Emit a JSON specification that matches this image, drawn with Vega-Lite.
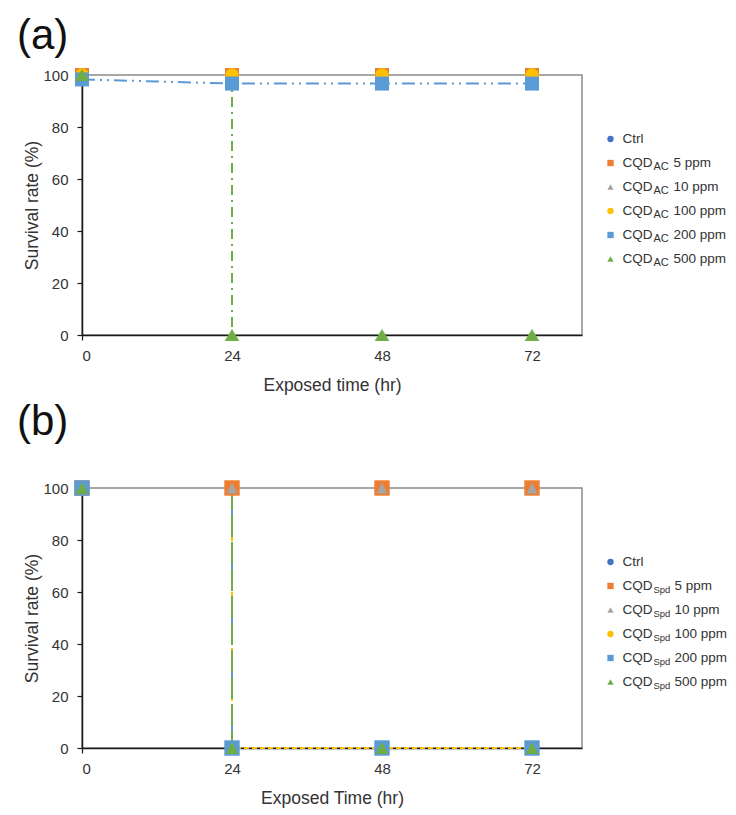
{
  "$schema": "https://vega.github.io/schema/vega-lite/v6.json",
  "padding": {"left": 16, "top": 14, "right": 0, "bottom": 0},
  "background": "white",
  "config": {
    "font": "Liberation Sans",
    "view": {"stroke": "#8a8a8a", "strokeWidth": 1.5},
    "axis": {
      "domainColor": "#1a1a1a", "domainWidth": 1.5,
      "tickColor": "#1a1a1a", "tickWidth": 1.2, "tickSize": 5,
      "labelFont": "Liberation Sans", "labelFontSize": 15, "labelColor": "#333333",
      "titleFont": "Liberation Sans", "titleFontSize": 17.5, "titleFontWeight": "normal", "titleColor": "#333333",
      "grid": false
    },
    "axisY": {"labelPadding": 9, "titlePadding": 1},
    "axisX": {"labelPadding": 8, "titlePadding": 13},
    "title": {"anchor": "start", "fontSize": 42, "fontWeight": "normal", "font": "Liberation Sans", "color": "#111111", "baseline": "bottom", "dx": -7}
  },
  "datasets": {
    "points": [
      {"panel": "a", "series": "Ctrl", "t": 0, "survival": 100},
      {"panel": "a", "series": "Ctrl", "t": 24, "survival": 100},
      {"panel": "a", "series": "Ctrl", "t": 48, "survival": 100},
      {"panel": "a", "series": "Ctrl", "t": 72, "survival": 100},
      {"panel": "a", "series": "5 ppm", "t": 0, "survival": 100},
      {"panel": "a", "series": "5 ppm", "t": 24, "survival": 100},
      {"panel": "a", "series": "5 ppm", "t": 48, "survival": 100},
      {"panel": "a", "series": "5 ppm", "t": 72, "survival": 100},
      {"panel": "a", "series": "10 ppm", "t": 0, "survival": 100},
      {"panel": "a", "series": "10 ppm", "t": 24, "survival": 100},
      {"panel": "a", "series": "10 ppm", "t": 48, "survival": 100},
      {"panel": "a", "series": "10 ppm", "t": 72, "survival": 100},
      {"panel": "a", "series": "100 ppm", "t": 0, "survival": 100},
      {"panel": "a", "series": "100 ppm", "t": 24, "survival": 100},
      {"panel": "a", "series": "100 ppm", "t": 48, "survival": 100},
      {"panel": "a", "series": "100 ppm", "t": 72, "survival": 100},
      {"panel": "a", "series": "200 ppm", "t": 0, "survival": 98.3},
      {"panel": "a", "series": "200 ppm", "t": 24, "survival": 96.7},
      {"panel": "a", "series": "200 ppm", "t": 48, "survival": 96.7},
      {"panel": "a", "series": "200 ppm", "t": 72, "survival": 96.7},
      {"panel": "a", "series": "500 ppm", "t": 0, "survival": 100},
      {"panel": "a", "series": "500 ppm", "t": 24, "survival": 0},
      {"panel": "a", "series": "500 ppm", "t": 48, "survival": 0},
      {"panel": "a", "series": "500 ppm", "t": 72, "survival": 0},
      {"panel": "b", "series": "Ctrl", "t": 0, "survival": 100},
      {"panel": "b", "series": "Ctrl", "t": 24, "survival": 100},
      {"panel": "b", "series": "Ctrl", "t": 48, "survival": 100},
      {"panel": "b", "series": "Ctrl", "t": 72, "survival": 100},
      {"panel": "b", "series": "5 ppm", "t": 0, "survival": 100},
      {"panel": "b", "series": "5 ppm", "t": 24, "survival": 100},
      {"panel": "b", "series": "5 ppm", "t": 48, "survival": 100},
      {"panel": "b", "series": "5 ppm", "t": 72, "survival": 100},
      {"panel": "b", "series": "10 ppm", "t": 0, "survival": 100},
      {"panel": "b", "series": "10 ppm", "t": 24, "survival": 100},
      {"panel": "b", "series": "10 ppm", "t": 48, "survival": 100},
      {"panel": "b", "series": "10 ppm", "t": 72, "survival": 100},
      {"panel": "b", "series": "100 ppm", "t": 0, "survival": 100},
      {"panel": "b", "series": "100 ppm", "t": 24, "survival": 0},
      {"panel": "b", "series": "100 ppm", "t": 48, "survival": 0},
      {"panel": "b", "series": "100 ppm", "t": 72, "survival": 0},
      {"panel": "b", "series": "200 ppm", "t": 0, "survival": 100},
      {"panel": "b", "series": "200 ppm", "t": 24, "survival": 0},
      {"panel": "b", "series": "200 ppm", "t": 48, "survival": 0},
      {"panel": "b", "series": "200 ppm", "t": 72, "survival": 0},
      {"panel": "b", "series": "500 ppm", "t": 0, "survival": 100},
      {"panel": "b", "series": "500 ppm", "t": 24, "survival": 0},
      {"panel": "b", "series": "500 ppm", "t": 48, "survival": 0},
      {"panel": "b", "series": "500 ppm", "t": 72, "survival": 0}
    ],
    "lines": [
      {"panel": "a", "series": "500 ppm", "t": 24, "survival": 100},
      {"panel": "a", "series": "500 ppm", "t": 24, "survival": 0},
      {"panel": "a", "series": "200 ppm", "t": 0, "survival": 98.3},
      {"panel": "a", "series": "200 ppm", "t": 24, "survival": 96.7},
      {"panel": "a", "series": "200 ppm", "t": 48, "survival": 96.7},
      {"panel": "a", "series": "200 ppm", "t": 72, "survival": 96.7},
      {"panel": "b", "series": "100 ppm", "t": 24, "survival": 100},
      {"panel": "b", "series": "100 ppm", "t": 24, "survival": 0},
      {"panel": "b", "series": "100 ppm", "t": 48, "survival": 0},
      {"panel": "b", "series": "100 ppm", "t": 72, "survival": 0},
      {"panel": "b", "series": "200 ppm", "t": 24, "survival": 100},
      {"panel": "b", "series": "200 ppm", "t": 24, "survival": 0},
      {"panel": "b", "series": "500 ppm", "t": 24, "survival": 100},
      {"panel": "b", "series": "500 ppm", "t": 24, "survival": 0}
    ],
    "legend": [
      {"panel": "a", "rank": 1, "series": "Ctrl", "base": "Ctrl", "sub": "", "rest": ""},
      {"panel": "a", "rank": 2, "series": "5 ppm", "base": "CQD", "sub": "AC", "rest": "5 ppm"},
      {"panel": "a", "rank": 3, "series": "10 ppm", "base": "CQD", "sub": "AC", "rest": "10 ppm"},
      {"panel": "a", "rank": 4, "series": "100 ppm", "base": "CQD", "sub": "AC", "rest": "100 ppm"},
      {"panel": "a", "rank": 5, "series": "200 ppm", "base": "CQD", "sub": "AC", "rest": "200 ppm"},
      {"panel": "a", "rank": 6, "series": "500 ppm", "base": "CQD", "sub": "AC", "rest": "500 ppm"},
      {"panel": "b", "rank": 1, "series": "Ctrl", "base": "Ctrl", "sub": "", "rest": ""},
      {"panel": "b", "rank": 2, "series": "5 ppm", "base": "CQD", "sub": "Spd", "rest": "5 ppm"},
      {"panel": "b", "rank": 3, "series": "10 ppm", "base": "CQD", "sub": "Spd", "rest": "10 ppm"},
      {"panel": "b", "rank": 4, "series": "100 ppm", "base": "CQD", "sub": "Spd", "rest": "100 ppm"},
      {"panel": "b", "rank": 5, "series": "200 ppm", "base": "CQD", "sub": "Spd", "rest": "200 ppm"},
      {"panel": "b", "rank": 6, "series": "500 ppm", "base": "CQD", "sub": "Spd", "rest": "500 ppm"}
    ]
  },
  "resolve": {"scale": {"shape": "independent", "color": "independent", "y": "independent", "x": "independent"}},
  "spacing": 5,
  "vconcat": [
    {
      "bounds": "flush",
      "spacing": 28.5,
      "resolve": {"scale": {"shape": "independent", "color": "independent", "y": "independent", "x": "independent"}},
      "hconcat": [
        {
          "title": {"text": "(a)", "offset": 10},
          "width": 500, "height": 260,
          "layer": [
            {
              "data": {"name": "lines"},
              "transform": [{"filter": "datum.panel === 'a' && datum.series === '500 ppm'"}],
              "mark": {"type": "line", "color": "#70AD47", "strokeWidth": 2, "strokeDash": [10, 5, 2, 5]},
              "encoding": {
                "x": {"field": "t", "type": "quantitative", "scale": {"domain": [0, 80], "nice": false}, "axis": {"values": [0, 24, 48, 72], "title": "Exposed time (hr)"}},
                "y": {"field": "survival", "type": "quantitative", "scale": {"domain": [0, 100]}, "axis": {"values": [0, 20, 40, 60, 80, 100], "title": "Survival rate (%)"}},
                "order": [{"field": "t", "type": "quantitative"}, {"field": "survival", "type": "quantitative", "sort": "descending"}]
              }
            },
            {
              "data": {"name": "lines"},
              "transform": [{"filter": "datum.panel === 'a' && datum.series === '200 ppm'"}],
              "mark": {"type": "line", "color": "#5B9BD5", "strokeWidth": 2, "strokeDash": [13, 5, 2, 5, 2, 5]},
              "encoding": {
                "x": {"field": "t", "type": "quantitative"},
                "y": {"field": "survival", "type": "quantitative"},
                "order": [{"field": "t", "type": "quantitative"}, {"field": "survival", "type": "quantitative", "sort": "descending"}]
              }
            },
            {
              "data": {"name": "points"},
              "transform": [{"filter": "datum.panel === 'a'"}],
              "mark": {"type": "point", "filled": true, "opacity": 1, "size": 196, "strokeWidth": 0},
              "encoding": {
                "x": {"field": "t", "type": "quantitative"},
                "y": {"field": "survival", "type": "quantitative"},
                "color": {"field": "series", "type": "nominal", "legend": null,
                  "scale": {"domain": ["Ctrl", "5 ppm", "10 ppm", "100 ppm", "200 ppm", "500 ppm"], "range": ["#4472C4", "#ED7D31", "#A5A5A5", "#FFC000", "#5B9BD5", "#70AD47"]}},
                "shape": {"field": "series", "type": "nominal", "legend": null,
                  "scale": {"domain": ["Ctrl", "5 ppm", "10 ppm", "100 ppm", "200 ppm", "500 ppm"],
                    "range": ["M0.95,0A0.95,0.95,0,1,1,-0.95,0A0.95,0.95,0,1,1,0.95,0Z", "M-1,-1H1V1H-1Z", "M0,-0.8L0.75,0.8L-0.75,0.8Z", "M0.95,0A0.95,0.95,0,1,1,-0.95,0A0.95,0.95,0,1,1,0.95,0Z", "M-1,-1H1V1H-1Z", "M0,-0.85L1.05,0.85L-1.05,0.85Z"]}}
              }
            }
          ]
        },
        {
          "width": 120, "height": 260,
          "view": {"stroke": null},
          "data": {"name": "legend"},
          "transform": [{"filter": "datum.panel === 'a'"}],
          "encoding": {
            "x": {"datum": 0, "type": "quantitative", "scale": {"domain": [0, 1]}, "axis": null},
            "y": {"field": "rank", "type": "quantitative", "axis": null, "scale": {"domain": [-1.667, 9.167], "reverse": true, "nice": false, "zero": false}}
          },
          "layer": [
            {
              "mark": {"type": "point", "filled": true, "opacity": 1, "size": 40, "strokeWidth": 0},
              "encoding": {
                "color": {"field": "series", "type": "nominal", "legend": null,
                  "scale": {"domain": ["Ctrl", "5 ppm", "10 ppm", "100 ppm", "200 ppm", "500 ppm"], "range": ["#4472C4", "#ED7D31", "#A5A5A5", "#FFC000", "#5B9BD5", "#70AD47"]}},
                "shape": {"field": "series", "type": "nominal", "legend": null,
                  "scale": {"domain": ["Ctrl", "5 ppm", "10 ppm", "100 ppm", "200 ppm", "500 ppm"], "range": ["circle", "square", "triangle-up", "circle", "square", "triangle-up"]}}
              }
            },
            {
              "mark": {"type": "text", "align": "left", "baseline": "middle", "dx": 12, "fontSize": 13.5, "color": "#333333"},
              "encoding": {"text": {"field": "base"}}
            },
            {
              "mark": {"type": "text", "align": "left", "baseline": "middle", "dx": 43, "dy": 4, "fontSize": 11, "color": "#333333"},
              "encoding": {"text": {"field": "sub"}}
            },
            {
              "mark": {"type": "text", "align": "left", "baseline": "middle", "dx": 63, "fontSize": 13.5, "color": "#333333"},
              "encoding": {"text": {"field": "rest"}}
            }
          ]
        }
      ]
    },
    {
      "bounds": "flush",
      "spacing": 28.5,
      "resolve": {"scale": {"shape": "independent", "color": "independent", "y": "independent", "x": "independent"}},
      "hconcat": [
        {
          "title": {"text": "(b)", "offset": 36},
          "width": 500, "height": 260,
          "layer": [
            {
              "data": {"name": "lines"},
              "transform": [{"filter": "datum.panel === 'b' && datum.series === '100 ppm'"}],
              "mark": {"type": "line", "color": "#FFC000", "strokeWidth": 2, "strokeDash": [5, 3]},
              "encoding": {
                "x": {"field": "t", "type": "quantitative", "scale": {"domain": [0, 80], "nice": false}, "axis": {"values": [0, 24, 48, 72], "title": "Exposed Time (hr)"}},
                "y": {"field": "survival", "type": "quantitative", "scale": {"domain": [0, 100]}, "axis": {"values": [0, 20, 40, 60, 80, 100], "title": "Survival rate (%)"}},
                "order": [{"field": "t", "type": "quantitative"}, {"field": "survival", "type": "quantitative", "sort": "descending"}]
              }
            },
            {
              "data": {"name": "lines"},
              "transform": [{"filter": "datum.panel === 'b' && datum.series === '200 ppm'"}],
              "mark": {"type": "line", "color": "#5B9BD5", "strokeWidth": 2, "strokeDash": [12, 6]},
              "encoding": {
                "x": {"field": "t", "type": "quantitative"},
                "y": {"field": "survival", "type": "quantitative"},
                "order": [{"field": "t", "type": "quantitative"}, {"field": "survival", "type": "quantitative", "sort": "descending"}]
              }
            },
            {
              "data": {"name": "lines"},
              "transform": [{"filter": "datum.panel === 'b' && datum.series === '500 ppm'"}],
              "mark": {"type": "line", "color": "#70AD47", "strokeWidth": 2, "strokeDash": [22, 5]},
              "encoding": {
                "x": {"field": "t", "type": "quantitative"},
                "y": {"field": "survival", "type": "quantitative"},
                "order": [{"field": "t", "type": "quantitative"}, {"field": "survival", "type": "quantitative", "sort": "descending"}]
              }
            },
            {
              "data": {"name": "points"},
              "transform": [{"filter": "datum.panel === 'b'"}],
              "mark": {"type": "point", "filled": true, "opacity": 1, "size": 196, "strokeWidth": 0},
              "encoding": {
                "x": {"field": "t", "type": "quantitative"},
                "y": {"field": "survival", "type": "quantitative"},
                "color": {"field": "series", "type": "nominal", "legend": null,
                  "scale": {"domain": ["Ctrl", "5 ppm", "10 ppm", "100 ppm", "200 ppm", "500 ppm"], "range": ["#4472C4", "#ED7D31", "#A5A5A5", "#FFC000", "#5B9BD5", "#70AD47"]}},
                "shape": {"field": "series", "type": "nominal", "legend": null,
                  "scale": {"domain": ["Ctrl", "5 ppm", "10 ppm", "100 ppm", "200 ppm", "500 ppm"],
                    "range": ["M0.95,0A0.95,0.95,0,1,1,-0.95,0A0.95,0.95,0,1,1,0.95,0Z", "M-1.1,-1.1H1.1V1.1H-1.1Z", "M0,-0.8L0.75,0.8L-0.75,0.8Z", "M0.95,0A0.95,0.95,0,1,1,-0.95,0A0.95,0.95,0,1,1,0.95,0Z", "M-1.1,-1.1H1.1V1.1H-1.1Z", "M0,-0.85L0.9,0.85L-0.9,0.85Z"]}}
              }
            }
          ]
        },
        {
          "width": 120, "height": 260,
          "view": {"stroke": null},
          "data": {"name": "legend"},
          "transform": [{"filter": "datum.panel === 'b'"}],
          "encoding": {
            "x": {"datum": 0, "type": "quantitative", "scale": {"domain": [0, 1]}, "axis": null},
            "y": {"field": "rank", "type": "quantitative", "axis": null, "scale": {"domain": [-2.083, 8.75], "reverse": true, "nice": false, "zero": false}}
          },
          "layer": [
            {
              "mark": {"type": "point", "filled": true, "opacity": 1, "size": 40, "strokeWidth": 0},
              "encoding": {
                "color": {"field": "series", "type": "nominal", "legend": null,
                  "scale": {"domain": ["Ctrl", "5 ppm", "10 ppm", "100 ppm", "200 ppm", "500 ppm"], "range": ["#4472C4", "#ED7D31", "#A5A5A5", "#FFC000", "#5B9BD5", "#70AD47"]}},
                "shape": {"field": "series", "type": "nominal", "legend": null,
                  "scale": {"domain": ["Ctrl", "5 ppm", "10 ppm", "100 ppm", "200 ppm", "500 ppm"], "range": ["circle", "square", "triangle-up", "circle", "square", "triangle-up"]}}
              }
            },
            {
              "mark": {"type": "text", "align": "left", "baseline": "middle", "dx": 12, "fontSize": 13.5, "color": "#333333"},
              "encoding": {"text": {"field": "base"}}
            },
            {
              "mark": {"type": "text", "align": "left", "baseline": "middle", "dx": 43, "dy": 4, "fontSize": 9.5, "color": "#333333"},
              "encoding": {"text": {"field": "sub"}}
            },
            {
              "mark": {"type": "text", "align": "left", "baseline": "middle", "dx": 64, "fontSize": 13.5, "color": "#333333"},
              "encoding": {"text": {"field": "rest"}}
            }
          ]
        }
      ]
    }
  ]
}
